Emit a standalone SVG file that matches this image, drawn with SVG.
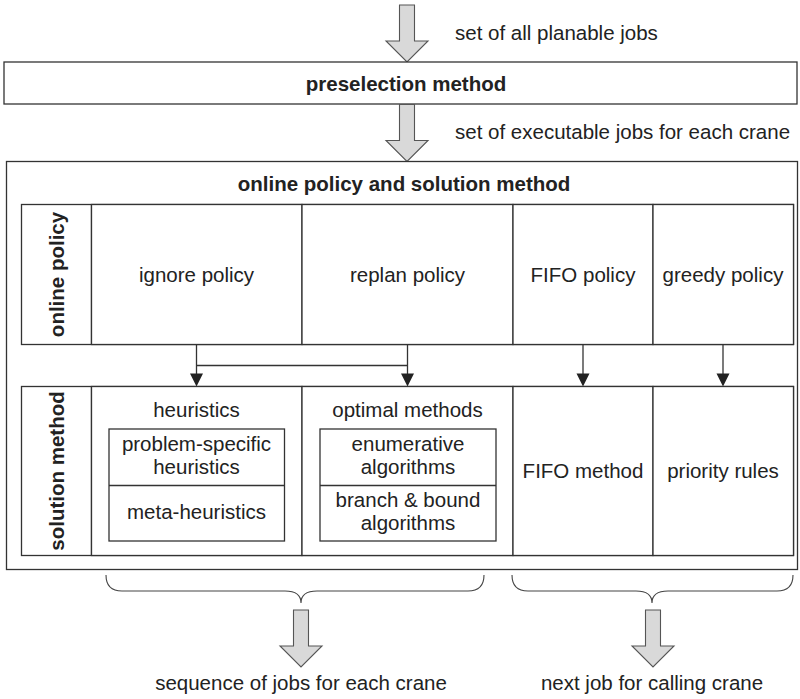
<svg xmlns="http://www.w3.org/2000/svg" width="800" height="699" viewBox="0 0 800 699">
  <style>
    .box { fill: #ffffff; stroke: #333333; stroke-width: 1.3; }
    .line { fill: none; stroke: #333333; stroke-width: 1.3; }
    .brace { fill: none; stroke: #444444; stroke-width: 1.1; }
    .fat { fill: #d9d9d9; stroke: #555555; stroke-width: 1.1; stroke-linejoin: miter; }
    .head { fill: #222222; }
    .t { font-family: "Liberation Sans", Arial, sans-serif; font-size: 20.5px; fill: #222222; text-anchor: middle; }
    .b { font-weight: bold; }
    .s { text-anchor: start; }
  </style>
  <defs>
    <!-- hollow block arrow pointing down, origin at tip -->
    <path id="blockArrow" d="M-7.5,-57 L7.5,-57 L7.5,-21 L21,-21 L0,0 L-21,-21 L-7.5,-21 Z"/>
    <!-- small filled arrowhead, origin at tip -->
    <path id="tip" d="M-6.5,-13 L6.5,-13 L0,0 Z"/>
  </defs>

  <!-- input arrow -->
  <g id="input">
    <use href="#blockArrow" class="fat" transform="translate(407,62)"/>
    <text class="t s" x="455" y="40">set of all planable jobs</text>
  </g>

  <!-- preselection -->
  <g id="preselection">
    <rect class="box" x="4" y="62" width="793" height="42"/>
    <text class="t b" x="406" y="90.5">preselection method</text>
  </g>

  <g id="executable">
    <use href="#blockArrow" class="fat" transform="translate(407,161.5)"/>
    <text class="t s" x="455" y="138.5">set of executable jobs for each crane</text>
  </g>

  <!-- container -->
  <g id="online-solution">
    <rect class="box" x="6.5" y="161.5" width="791" height="408"/>
    <text class="t b" x="404" y="191">online policy and solution method</text>
  </g>

  <!-- online policy row -->
  <g id="online-policy-row">
    <rect class="box" x="21.5" y="204.5" width="772" height="140"/>
    <line class="line" x1="91.5" y1="204.5" x2="91.5" y2="344.5"/>
    <text class="t b" transform="translate(63.5 274.5) rotate(-90)">online policy</text>
  </g>
  <g id="ignore-policy">
    <rect class="box" x="91.5" y="204.5" width="210.5" height="140"/>
    <text class="t" x="196.5" y="282">ignore policy</text>
  </g>
  <g id="replan-policy">
    <rect class="box" x="302" y="204.5" width="211" height="140"/>
    <text class="t" x="407.5" y="282">replan policy</text>
  </g>
  <g id="fifo-policy">
    <rect class="box" x="513" y="204.5" width="140" height="140"/>
    <text class="t" x="583" y="282">FIFO policy</text>
  </g>
  <g id="greedy-policy">
    <rect class="box" x="653" y="204.5" width="140.5" height="140"/>
    <text class="t" x="723" y="282">greedy policy</text>
  </g>

  <!-- solution method row -->
  <g id="solution-method-row">
    <rect class="box" x="21.5" y="386.5" width="772" height="169"/>
    <line class="line" x1="91.5" y1="386.5" x2="91.5" y2="555.5"/>
    <text class="t b" transform="translate(63.5 471) rotate(-90)">solution method</text>
  </g>
  <g id="heuristics">
    <rect class="box" x="91.5" y="386.5" width="210.5" height="169"/>
    <text class="t" x="196.5" y="417">heuristics</text>
    <rect class="box" x="109" y="429" width="175.5" height="112"/>
    <line class="line" x1="109" y1="485.5" x2="284.5" y2="485.5"/>
    <text class="t" x="196.5" y="451">problem-specific</text>
    <text class="t" x="196.5" y="474">heuristics</text>
    <text class="t" x="196.5" y="519">meta-heuristics</text>
  </g>
  <g id="optimal-methods">
    <rect class="box" x="302" y="386.5" width="211" height="169"/>
    <text class="t" x="407.5" y="417">optimal methods</text>
    <rect class="box" x="320" y="429" width="176" height="112"/>
    <line class="line" x1="320" y1="485.5" x2="496" y2="485.5"/>
    <text class="t" x="408" y="451">enumerative</text>
    <text class="t" x="408" y="474">algorithms</text>
    <text class="t" x="408" y="507">branch &amp; bound</text>
    <text class="t" x="408" y="530">algorithms</text>
  </g>
  <g id="fifo-method">
    <rect class="box" x="513" y="386.5" width="140" height="169"/>
    <text class="t" x="583" y="478">FIFO method</text>
  </g>
  <g id="priority-rules">
    <rect class="box" x="653" y="386.5" width="140.5" height="169"/>
    <text class="t" x="723" y="478">priority rules</text>
  </g>

  <!-- policy to method connectors -->
  <g id="connectors">
    <path class="line" d="M196.5,344.5 V374"/>
    <path class="line" d="M196.5,365.5 H407.5"/>
    <path class="line" d="M407.5,344.5 V374"/>
    <path class="line" d="M583,344.5 V374"/>
    <path class="line" d="M723,344.5 V374"/>
    <use href="#tip" class="head" transform="translate(196.5,386.5)"/>
    <use href="#tip" class="head" transform="translate(407.5,386.5)"/>
    <use href="#tip" class="head" transform="translate(583,386.5)"/>
    <use href="#tip" class="head" transform="translate(723,386.5)"/>
  </g>

  <!-- output groupings -->
  <g id="sequence-output">
    <path class="brace" d="M106,575 Q106,591 122,591 L285,591 Q301,591 301,603 Q301,591 317,591 L468,591 Q484,591 484,575"/>
    <use href="#blockArrow" class="fat" transform="translate(301,667)"/>
    <text class="t" x="301" y="690">sequence of jobs for each crane</text>
  </g>
  <g id="next-job-output">
    <path class="brace" d="M512,575 Q512,591 528,591 L636,591 Q652,591 652,603 Q652,591 668,591 L777,591 Q793,591 793,575"/>
    <use href="#blockArrow" class="fat" transform="translate(653,667)"/>
    <text class="t" x="652" y="690">next job for calling crane</text>
  </g>
</svg>
